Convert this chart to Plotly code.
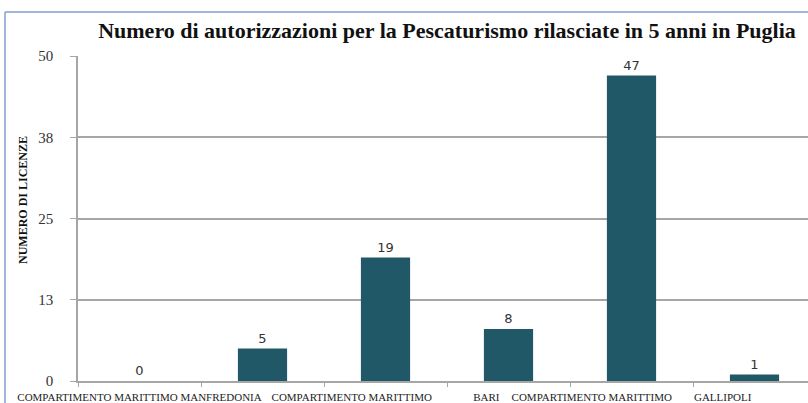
import plotly.graph_objects as go

NB = "\u00a0"
categories = [0, 1, 2, 3, 4, 5]
values = [0, 5, 19, 8, 47, 1]
label_positions = [0, 2, 4]
label_texts = [
    "COMPARTIMENTO MARITTIMO MANFREDONIA",
    "COMPARTIMENTO MARITTIMO" + NB * 15 + "BARI",
    "COMPARTIMENTO MARITTIMO" + NB * 8 + "GALLIPOLI",
]
y_tickvals = [0, 12.5, 25, 37.5, 50]
y_ticktext = ["0", "13", "25", "38", "50"]

title = "Numero di autorizzazioni per la Pescaturismo rilasciate in 5 anni in Puglia"
bar_color = "#215867"
grid_color = "#a6a6a6"

fig = go.Figure(
    go.Bar(
        x=categories,
        y=values,
        width=0.4,
        marker=dict(color=bar_color, line=dict(width=0)),
        text=[str(v) for v in values],
        textposition="outside",
        cliponaxis=False,
        textfont=dict(family="DejaVu Sans", size=13, color="#333333"),
    )
)

fig.update_layout(
    width=808,
    height=403,
    margin=dict(l=78, r=0, t=56, b=22),
    paper_bgcolor="white",
    plot_bgcolor="white",
    showlegend=False,
    title=dict(
        text="<b>" + title + "</b>",
        x=447 / 808,
        xanchor="center",
        y=1 - 30 / 403,
        yanchor="middle",
        font=dict(family="Liberation Serif", size=22, color="#111111"),
    ),
    xaxis=dict(
        range=[-0.5, 5.435],
        tickvals=label_positions,
        ticktext=label_texts,
        ticks="",
        ticklabelstandoff=5,
        showgrid=False,
        zeroline=False,
        showline=True,
        linecolor=grid_color,
        linewidth=1.5,
        tickfont=dict(family="Liberation Serif", size=11, color="#222222"),
        minor=dict(tick0=0.5, dtick=1, ticks="outside", ticklen=4,
                   tickcolor=grid_color, tickwidth=1, showgrid=False),
    ),
    yaxis=dict(
        range=[0, 50],
        tickvals=y_tickvals,
        ticktext=y_ticktext,
        ticks="outside",
        ticklen=6,
        ticklabelstandoff=14,
        tickcolor=grid_color,
        showgrid=True,
        gridcolor=grid_color,
        gridwidth=1.5,
        zeroline=False,
        showline=True,
        linecolor=grid_color,
        linewidth=1.5,
        tickfont=dict(family="Liberation Serif", size=15, color="#333333"),
    ),
    annotations=[
        dict(
            text="<b>NUMERO DI LICENZE</b>",
            textangle=-90,
            xref="paper", yref="paper",
            x=(23 - 78) / 730, y=(381 - 200) / 325,
            xanchor="center", yanchor="middle",
            showarrow=False,
            font=dict(family="Liberation Serif", size=12, color="#111111"),
        )
    ],
    shapes=[
        dict(type="line", xref="paper", yref="paper",
             x0=(5 - 78) / 730, x1=(5 - 78) / 730,
             y0=(381 - 403) / 325, y1=(381 - 12) / 325,
             line=dict(color="#7f9fcf", width=1.5)),
        dict(type="line", xref="paper", yref="paper",
             x0=(5 - 78) / 730, x1=1.0,
             y0=(381 - 12) / 325, y1=(381 - 12) / 325,
             line=dict(color="#7f9fcf", width=1.5)),
    ],
)

fig.write_html("out.html")
